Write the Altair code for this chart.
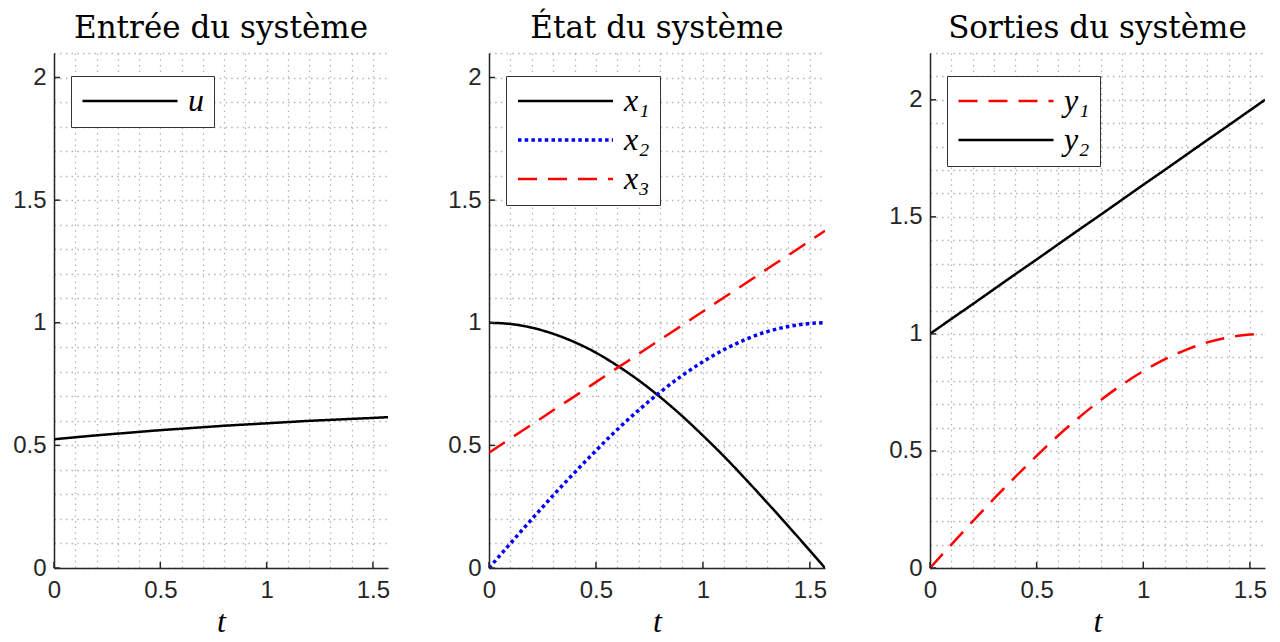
import altair as alt
import pandas as pd

# ---- data ----
t = [0.0, 0.1, 0.2, 0.3, 0.4, 0.5, 0.6, 0.7, 0.8, 0.9, 1.0, 1.1, 1.2, 1.3, 1.4, 1.5, 1.5708]
u = [0.525, 0.533, 0.541, 0.548, 0.555, 0.562, 0.568, 0.574, 0.580, 0.585, 0.590, 0.595, 0.600, 0.604, 0.608, 0.612, 0.615]
x1 = [1.000, 0.995, 0.980, 0.955, 0.921, 0.878, 0.825, 0.765, 0.697, 0.622, 0.540, 0.454, 0.362, 0.267, 0.170, 0.071, 0.000]
x2 = [0.000, 0.100, 0.199, 0.296, 0.389, 0.479, 0.565, 0.644, 0.717, 0.783, 0.841, 0.891, 0.932, 0.964, 0.985, 0.997, 1.000]
x3 = [0.470, 0.528, 0.585, 0.643, 0.700, 0.758, 0.816, 0.873, 0.931, 0.988, 1.046, 1.104, 1.161, 1.219, 1.276, 1.334, 1.375]
y1 = [0.000, 0.100, 0.199, 0.296, 0.389, 0.479, 0.565, 0.644, 0.717, 0.783, 0.841, 0.891, 0.932, 0.964, 0.985, 0.997, 1.000]
y2 = [1.000, 1.064, 1.127, 1.191, 1.255, 1.318, 1.382, 1.446, 1.509, 1.573, 1.637, 1.700, 1.764, 1.828, 1.891, 1.955, 2.000]

titles = ["Entrée du système", "État du système", "Sorties du système"]
x_major = [0, 0.5, 1, 1.5]
x_grid = [0, 0.1, 0.2, 0.3, 0.4, 0.5, 0.6, 0.7, 0.8, 0.9, 1.0, 1.1, 1.2, 1.3, 1.4, 1.5]
y_major_a = [0, 0.5, 1, 1.5, 2]
y_grid_a = [0, 0.1, 0.2, 0.3, 0.4, 0.5, 0.6, 0.7, 0.8, 0.9, 1.0, 1.1, 1.2, 1.3, 1.4, 1.5, 1.6, 1.7, 1.8, 1.9, 2.0, 2.1]
y_grid_b = y_grid_a + [2.2]
x_domain = [0, 1.5708]
y_domain_a = [0, 2.1]
y_domain_b = [0, 2.2]

H = 515
AX = "#262626"
SANS = "Liberation Sans"
SERIF = "Liberation Serif"
TSERIF = "DejaVu Serif"
LABEL_EXPR = "abs(datum.value*2 - round(datum.value*2)) < 1e-6 ? datum.label : ''"

SOLID, DOTTED, DASHED = [1, 0], [3.5, 3.2], [19, 11]


def make_df(series):
    rows = []
    for name, vals in series:
        for ti, v in zip(t, vals):
            rows.append({"t": ti, "v": v, "s": name})
    return pd.DataFrame(rows)


def panel(series, colors, dashes, widths, ydom, ygrid, title, W):
    df = make_df(series)
    names = [n for n, _ in series]
    leg = alt.Legend(
        orient="none", legendX=17, legendY=23, title=None,
        symbolType="stroke", symbolSize=9025, symbolStrokeWidth=2.5,
        labelFont=SERIF, labelFontStyle="italic", labelFontSize=32,
        labelColor="black", labelOffset=9, strokeColor="#333333",
        fillColor="white", padding=10, rowPadding=7, clipHeight=30,
    )
    common = dict(
        format="~g", labelExpr=LABEL_EXPR, labelOverlap=False, labelFlush=False,
        labelBound=False, grid=True, gridDash=[1.5, 4.2], gridColor="#b4b4b4",
        gridWidth=1.3, ticks=False, domainColor=AX, domainWidth=1.5,
        labelFont=SANS, labelFontSize=24, labelColor=AX,
    )
    xaxis = alt.Axis(
        values=x_grid, labelPadding=10,
        title="t", titleFont=SERIF, titleFontStyle="italic",
        titleFontWeight="normal", titleFontSize=32, titleColor="black",
        titlePadding=4, **common,
    )
    yaxis = alt.Axis(values=ygrid, labelPadding=8, title=None, **common)
    xs = alt.Scale(domain=x_domain, nice=False, zero=False)
    ys = alt.Scale(domain=ydom, nice=False)
    enc = dict(
        x=alt.X("t:Q", scale=xs, axis=xaxis),
        y=alt.Y("v:Q", scale=ys, axis=yaxis),
        color=alt.Color("s:N", scale=alt.Scale(domain=names, range=colors), legend=leg),
        strokeDash=alt.StrokeDash("s:N", scale=alt.Scale(domain=names, range=dashes), legend=leg),
        order=alt.Order("t:Q"),
    )
    if len(set(widths)) > 1:
        enc["strokeWidth"] = alt.StrokeWidth(
            "s:N", scale=alt.Scale(type="ordinal", domain=names, range=widths), legend=leg)
        lines = alt.Chart(df).mark_line(clip=True, interpolate="monotone").encode(**enc)
    else:
        lines = alt.Chart(df).mark_line(clip=True, interpolate="monotone",
                                        strokeWidth=widths[0]).encode(**enc)
    xt = alt.Chart(pd.DataFrame({"t": x_major})).mark_rule(color=AX, strokeWidth=1.5).encode(
        x=alt.X("t:Q", scale=xs, axis=xaxis), y=alt.value(H), y2=alt.value(H - 6)
    )
    ymaj = [v for v in y_major_a if v <= ydom[1]]
    yt = alt.Chart(pd.DataFrame({"v": ymaj})).mark_rule(color=AX, strokeWidth=1.5).encode(
        y=alt.Y("v:Q", scale=ys, axis=yaxis), x=alt.value(0), x2=alt.value(6)
    )
    return alt.layer(lines, xt, yt).properties(
        width=W, height=H,
        title=alt.TitleParams(title, font=TSERIF, fontSize=31, fontWeight="normal",
                              color="black", anchor="middle", offset=-4),
    )


p1 = panel([("u", u)], ["black"], [SOLID], [2.5], y_domain_a, y_grid_a, titles[0], 334)
p2 = panel([("x₁", x1), ("x₂", x2), ("x₃", x3)], ["black", "#0000ff", "#ff0000"],
           [SOLID, DOTTED, DASHED], [2.5, 3.5, 2.5], y_domain_a, y_grid_a, titles[1], 336)
p3 = panel([("y₁", y1), ("y₂", y2)], ["#ff0000", "black"], [DASHED, SOLID], [2.5, 2.5],
           y_domain_b, y_grid_b, titles[2], 335)

right = alt.hconcat(p2, p3, spacing=61).resolve_scale(
    color="independent", strokeDash="independent", strokeWidth="independent")

chart = alt.hconcat(
    p1, right, spacing=57, background="white",
    padding={"left": 4, "top": 5, "right": 5, "bottom": 0},
).resolve_scale(
    color="independent", strokeDash="independent", strokeWidth="independent"
).configure_view(strokeWidth=0)

chart.save("out.html", embed_options={"renderer": "svg", "actions": False})
